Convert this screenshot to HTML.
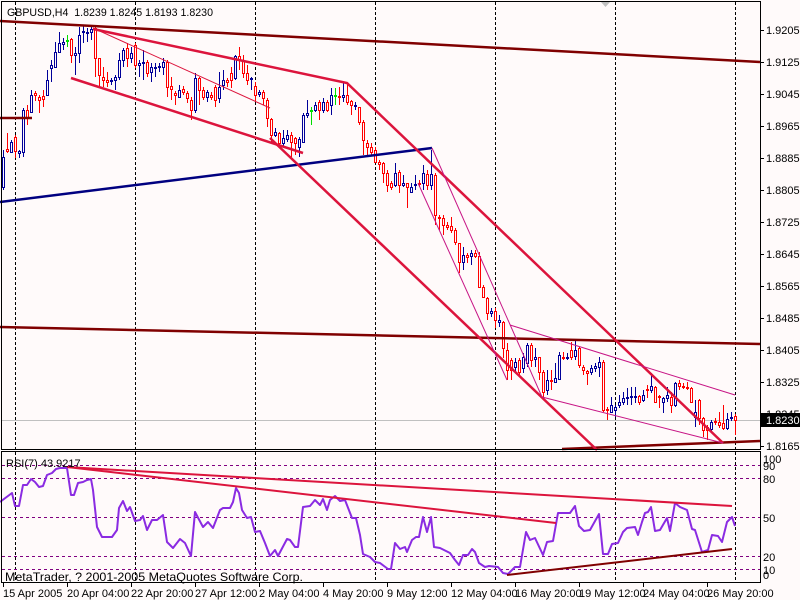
<!DOCTYPE html>
<html><head><meta charset="utf-8"><style>
html,body{margin:0;padding:0;background:#FFFAFA;}
svg{display:block;}
text{font-family:"Liberation Sans",Arial,sans-serif;font-size:11px;fill:#000;}
</style></head><body>
<svg width="800" height="600" viewBox="0 0 800 600" xmlns="http://www.w3.org/2000/svg">
<rect x="0" y="0" width="800" height="600" fill="#FFFAFA"/>
<!-- vertical grid -->
<g stroke="#000" stroke-width="1" stroke-dasharray="3,2" shape-rendering="crispEdges">
<path d="M15.5 2V449M135.5 2V449M255.5 2V449M375.5 2V449M495.5 2V449M615.5 2V449M735.5 2V449"/>
<path d="M15.5 452V582M135.5 452V582M255.5 452V582M375.5 452V582M495.5 452V582M615.5 452V582M735.5 452V582"/>
</g>
<!-- current price line -->
<path d="M2 420.5H760" stroke="#C0C0C0" stroke-width="1" shape-rendering="crispEdges"/>
<polygon points="601,2 610,2 605.5,7" fill="#C0C0C0"/>
<!-- candles -->
<g shape-rendering="crispEdges" stroke-width="1">
<path stroke="#FF0000" fill="none" d="M7.5 133V153M15.5 135V158M27.5 105V125M35.5 91V101M39.5 95V113M43.5 90V107M71.5 38V63M95.5 27V77M99.5 58V87M103.5 67V87M107.5 72V87M127.5 43V67M135.5 43V68M147.5 60V77M167.5 60V97M171.5 77V100M175.5 91V105M183.5 86V95M187.5 91V103M191.5 97V120M199.5 77V105M203.5 87V100M211.5 92V100M215.5 85V107M227.5 78V87M231.5 67V88M239.5 47V70M243.5 55V78M247.5 65V85M255.5 82V102M263.5 90V105M267.5 98V127M271.5 118V143M279.5 132V147M291.5 132V157M295.5 137V155M319.5 100V120M327.5 100V112M339.5 87V105M347.5 83V105M351.5 100V115M359.5 107V125M363.5 120V155M367.5 140V155M371.5 143V155M375.5 147V163M379.5 160V170M383.5 162V183M387.5 170V192M391.5 181V190M399.5 170V193M407.5 183V208M419.5 180V187M427.5 170V190M435.5 173V225M439.5 215V230M443.5 215V235M447.5 222V230M451.5 217V233M455.5 228V245M459.5 243V273M467.5 253V263M475.5 250V258M479.5 252V287M483.5 285V298M487.5 297V320M495.5 308V328M503.5 321V358M507.5 343V380M511.5 358V380M519.5 358V377M531.5 343V367M539.5 357V380M543.5 370V397M551.5 370V390M563.5 352V360M571.5 342V360M579.5 347V368M583.5 365V375M587.5 370V385M603.5 360V412M607.5 407V420M639.5 395V405M647.5 385V398M655.5 386V403M659.5 395V408M671.5 392V413M679.5 380V390M683.5 383V389M687.5 382V390M691.5 387V403M699.5 399V425M703.5 417V437M707.5 425V440M715.5 418V425M719.5 412V428M723.5 405V430M735.5 414V435"/>
<path stroke="#FF0000" fill="#FFFAFA" d="M6.5 149.5h2v2h-2zM14.5 137.5h2v14h-2zM26.5 110.5h2v7h-2zM34.5 93.5h2v2h-2zM38.5 97.5h2v3h-2zM42.5 96.5h2v3h-2zM70.5 39.5h2v16h-2zM94.5 28.5h2v30h-2zM98.5 58.5h2v17h-2zM102.5 77.5h2v3h-2zM106.5 80.5h2v2h-2zM126.5 48.5h2v10h-2zM134.5 45.5h2v20h-2zM146.5 62.5h2v11h-2zM166.5 62.5h2v25h-2zM170.5 86.5h2v3h-2zM174.5 93.5h2v2h-2zM182.5 89.5h2v3h-2zM186.5 93.5h2v5h-2zM190.5 100.5h2v10h-2zM198.5 78.5h2v12h-2zM202.5 90.5h2v7h-2zM210.5 95.5h2v2h-2zM214.5 87.5h2v13h-2zM226.5 80.5h2v2h-2zM230.5 73.5h2v7h-2zM238.5 56.5h2v4h-2zM242.5 60.5h2v13h-2zM246.5 73.5h2v7h-2zM254.5 86.5h2v9h-2zM262.5 92.5h2v6h-2zM266.5 100.5h2v18h-2zM270.5 119.5h2v16h-2zM278.5 133.5h2v10h-2zM290.5 135.5h2v7h-2zM294.5 138.5h2v5h-2zM318.5 102.5h2v8h-2zM326.5 102.5h2v8h-2zM338.5 96.5h2v1h-2zM346.5 95.5h2v7h-2zM350.5 101.5h2v4h-2zM358.5 107.5h2v15h-2zM362.5 122.5h2v18h-2zM366.5 143.5h2v4h-2zM370.5 147.5h2v5h-2zM374.5 150.5h2v12h-2zM378.5 162.5h2v2h-2zM382.5 163.5h2v10h-2zM386.5 173.5h2v12h-2zM390.5 183.5h2v4h-2zM398.5 172.5h2v13h-2zM406.5 183.5h2v4h-2zM418.5 183.5h2v1h-2zM426.5 174.5h2v11h-2zM434.5 175.5h2v40h-2zM438.5 217.5h2v1h-2zM442.5 218.5h2v7h-2zM446.5 225.5h2v2h-2zM450.5 226.5h2v4h-2zM454.5 230.5h2v12h-2zM458.5 243.5h2v19h-2zM466.5 255.5h2v2h-2zM474.5 253.5h2v3h-2zM478.5 256.5h2v31h-2zM482.5 287.5h2v10h-2zM486.5 298.5h2v15h-2zM494.5 311.5h2v9h-2zM502.5 322.5h2v26h-2zM506.5 350.5h2v20h-2zM510.5 360.5h2v10h-2zM518.5 360.5h2v12h-2zM530.5 345.5h2v15h-2zM538.5 357.5h2v15h-2zM542.5 372.5h2v20h-2zM550.5 380.5h2v1h-2zM562.5 357.5h2v1h-2zM570.5 350.5h2v7h-2zM578.5 348.5h2v17h-2zM582.5 367.5h2v3h-2zM586.5 371.5h2v2h-2zM602.5 362.5h2v48h-2zM606.5 409.5h2v1h-2zM638.5 396.5h2v6h-2zM646.5 389.5h2v1h-2zM654.5 387.5h2v15h-2zM658.5 396.5h2v1h-2zM670.5 397.5h2v8h-2zM678.5 383.5h2v3h-2zM682.5 386.5h2v1h-2zM686.5 387.5h2v1h-2zM690.5 388.5h2v14h-2zM698.5 400.5h2v18h-2zM702.5 418.5h2v12h-2zM706.5 427.5h2v3h-2zM714.5 421.5h2v1h-2zM718.5 422.5h2v3h-2zM722.5 423.5h2v5h-2zM734.5 416.5h2v4h-2z"/>
<path stroke="#000099" fill="none" d="M3.5 150V190M11.5 140V153M19.5 150V158M23.5 108V157M31.5 90V113M47.5 70V96M51.5 60V82M55.5 42V68M59.5 32V53M63.5 38V50M75.5 47V75M79.5 27V63M83.5 25V43M87.5 28V42M91.5 26V40M111.5 78V85M115.5 75V90M119.5 53V80M123.5 48V67M131.5 47V63M139.5 60V77M143.5 50V80M151.5 63V82M155.5 63V77M159.5 63V72M163.5 58V75M179.5 85V98M195.5 73V113M207.5 90V102M219.5 72V103M223.5 70V90M235.5 55V80M251.5 77V90M259.5 90V97M275.5 128V137M283.5 130V147M287.5 130V142M299.5 137V157M303.5 113V143M307.5 100V118M315.5 102V112M323.5 98V113M331.5 88V115M343.5 83V102M355.5 102V110M395.5 163V187M403.5 175V187M411.5 183V193M415.5 175V190M423.5 165V190M431.5 150V190M463.5 247V270M471.5 250V265M491.5 308V317M499.5 315V327M515.5 358V373M523.5 353V373M527.5 343V367M535.5 348V367M547.5 370V395M555.5 363V383M559.5 352V380M567.5 353V360M575.5 340V360M591.5 365V375M595.5 363V372M599.5 357V377M611.5 397V413M615.5 405V417M619.5 395V408M623.5 392V405M627.5 388V405M631.5 387V405M635.5 387V403M643.5 390V402M651.5 373V393M663.5 397V413M667.5 387V402M675.5 382V407M695.5 400V427M711.5 420V433M727.5 413V430M731.5 412V421"/>
<path stroke="#000099" fill="#FFFAFA" d="M2.5 157.5h2v30h-2zM10.5 142.5h2v10h-2zM18.5 151.5h2v2h-2zM22.5 110.5h2v42h-2zM30.5 95.5h2v17h-2zM46.5 80.5h2v15h-2zM50.5 65.5h2v3h-2zM54.5 52.5h2v15h-2zM58.5 43.5h2v9h-2zM62.5 42.5h2v2h-2zM74.5 53.5h2v2h-2zM78.5 35.5h2v18h-2zM82.5 31.5h2v1h-2zM86.5 32.5h2v1h-2zM90.5 29.5h2v3h-2zM110.5 80.5h2v1h-2zM114.5 77.5h2v3h-2zM118.5 60.5h2v17h-2zM122.5 50.5h2v10h-2zM130.5 53.5h2v5h-2zM138.5 63.5h2v2h-2zM142.5 62.5h2v1h-2zM150.5 67.5h2v5h-2zM154.5 67.5h2v1h-2zM158.5 66.5h2v1h-2zM162.5 62.5h2v5h-2zM178.5 90.5h2v7h-2zM194.5 78.5h2v32h-2zM206.5 92.5h2v5h-2zM218.5 87.5h2v11h-2zM222.5 80.5h2v5h-2zM234.5 56.5h2v22h-2zM250.5 78.5h2v1h-2zM258.5 92.5h2v2h-2zM274.5 132.5h2v3h-2zM282.5 138.5h2v5h-2zM286.5 135.5h2v4h-2zM298.5 139.5h2v8h-2zM302.5 115.5h2v27h-2zM306.5 113.5h2v2h-2zM314.5 105.5h2v5h-2zM322.5 102.5h2v8h-2zM330.5 95.5h2v10h-2zM342.5 95.5h2v2h-2zM354.5 105.5h2v1h-2zM394.5 173.5h2v12h-2zM402.5 183.5h2v2h-2zM410.5 187.5h2v5h-2zM414.5 184.5h2v1h-2zM422.5 173.5h2v10h-2zM430.5 174.5h2v11h-2zM462.5 255.5h2v7h-2zM470.5 253.5h2v3h-2zM490.5 311.5h2v2h-2zM498.5 320.5h2v2h-2zM514.5 362.5h2v5h-2zM522.5 357.5h2v11h-2zM526.5 345.5h2v18h-2zM534.5 357.5h2v2h-2zM546.5 380.5h2v10h-2zM554.5 378.5h2v4h-2zM558.5 355.5h2v24h-2zM566.5 357.5h2v1h-2zM574.5 350.5h2v6h-2zM590.5 368.5h2v4h-2zM594.5 366.5h2v2h-2zM598.5 362.5h2v5h-2zM610.5 405.5h2v7h-2zM614.5 407.5h2v3h-2zM618.5 402.5h2v3h-2zM622.5 398.5h2v4h-2zM626.5 397.5h2v1h-2zM630.5 396.5h2v1h-2zM634.5 396.5h2v1h-2zM642.5 395.5h2v5h-2zM650.5 386.5h2v4h-2zM662.5 398.5h2v4h-2zM666.5 395.5h2v3h-2zM674.5 383.5h2v22h-2zM694.5 412.5h2v5h-2zM710.5 422.5h2v7h-2zM726.5 419.5h2v9h-2zM730.5 417.5h2v1h-2z"/>
<path stroke="#00DD00" fill="none" d="M67.5 35V47M311.5 107V125M335.5 88V105"/>
<path stroke="#00DD00" fill="#00DD00" d="M66.5 40.5h2v1h-2zM310.5 110.5h2v1h-2zM334.5 95.5h2v1h-2z"/>
</g>
<!-- trend lines main -->
<g fill="none" stroke-linecap="butt">
<path d="M0 21L760 62" stroke="#800000" stroke-width="2.5"/>
<path d="M0 118H32" stroke="#800000" stroke-width="2.5"/>
<path d="M0 327L760 344" stroke="#800000" stroke-width="2.5"/>
<path d="M562 449L760 441" stroke="#800000" stroke-width="2.5"/>
<path d="M0 202L432 148" stroke="#000080" stroke-width="2.5"/>
<path d="M93 29L347 83L723 443" stroke="#DC143C" stroke-width="2.5"/>
<path d="M71 78L303 153" stroke="#DC143C" stroke-width="2.5"/>
<path d="M270 138L597 450" stroke="#DC143C" stroke-width="2.5"/>
<path d="M93 28L270 108" stroke="#DC143C" stroke-width="1"/>
<path d="M418 183L507 380" stroke="#C71585" stroke-width="1"/>
<path d="M432 148L542 397" stroke="#C71585" stroke-width="1"/>
<path d="M510 325L735 395" stroke="#C71585" stroke-width="1"/>
<path d="M542 397L723 443" stroke="#C71585" stroke-width="1"/>
</g>
<!-- RSI levels -->
<g stroke="#800080" stroke-width="1" stroke-dasharray="3,3" shape-rendering="crispEdges">
<path d="M2 465.5H760M2 478.5H760M2 517.5H760M2 556.5H760M2 569.5H760"/>
</g>
<!-- RSI line -->
<polyline fill="none" stroke="#8A2BE2" stroke-width="2" stroke-linejoin="round" points="0,502 12,493 15,506 19,506 23,485 27,485 31,479 35,482 39,487 43,486 47,475 52,473 56,469 60,468 67,468 71,495 74,495 78,483 83,482 87,480 91,479 93,490 97,527 102,537 112,537 117,530 119,508 123,501 127,511 130,507 135,521 140,520 143,516 147,530 152,520 157,520 163,515 167,542 173,548 180,539 185,543 191,556 195,512 203,527 208,522 213,528 220,510 223,508 230,508 233,502 236,488 239,493 242,510 247,518 251,517 255,532 260,531 265,543 270,556 275,550 278,556 287,539 290,540 295,547 298,547 303,507 310,506 315,500 320,505 323,499 327,510 330,500 335,496 340,501 345,500 352,518 356,518 360,535 363,554 370,557 375,562 380,563 388,569 391,569 395,543 400,549 405,547 407,552 412,540 416,537 419,537 423,517 427,532 431,517 434,547 440,548 450,553 455,560 459,565 463,555 468,555 472,549 475,552 479,563 485,567 489,566 498,567 503,573 508,574 515,567 520,567 526,532 530,540 535,538 543,555 547,542 553,541 558,513 570,513 575,506 579,526 584,531 590,530 599,514 603,554 608,554 612,544 618,543 623,532 627,528 635,527 638,535 642,522 645,513 648,512 651,507 655,531 660,530 667,518 670,531 675,503 680,507 687,510 692,529 695,530 702,552 708,550 712,535 718,536 722,542 727,522 732,517 735,526"/>
<g fill="none">
<path d="M67 467L732 506" stroke="#DC143C" stroke-width="2"/>
<path d="M67 467L556 523" stroke="#DC143C" stroke-width="2"/>
<path d="M507 575L732 549" stroke="#800000" stroke-width="2"/>
</g>
<!-- borders -->
<g stroke="#000" stroke-width="1" fill="none" shape-rendering="crispEdges">
<path d="M1.5 1.5H760.5V449.5H1.5Z"/>
<path d="M1.5 451.5H760.5V582.5H1.5Z"/>
<path d="M760 30.5h4M760 62.5h4M760 94.5h4M760 126.5h4M760 158.5h4M760 190.5h4M760 222.5h4M760 254.5h4M760 286.5h4M760 318.5h4M760 350.5h4M760 382.5h4M760 414.5h4M760 446.5h4"/>
<path d="M3.5 583v4M67.5 583v4M131.5 583v4M195.5 583v4M259.5 583v4M323.5 583v4M387.5 583v4M451.5 583v4M515.5 583v4M579.5 583v4M643.5 583v4M707.5 583v4"/>
</g>
<!-- price labels -->
<g>
<text x="766" y="34">1.9205</text>
<text x="766" y="66">1.9125</text>
<text x="766" y="98">1.9045</text>
<text x="766" y="130">1.8965</text>
<text x="766" y="162">1.8885</text>
<text x="766" y="194">1.8805</text>
<text x="766" y="226">1.8725</text>
<text x="766" y="258">1.8645</text>
<text x="766" y="290">1.8565</text>
<text x="766" y="322">1.8485</text>
<text x="766" y="354">1.8405</text>
<text x="766" y="386">1.8325</text>
<text x="766" y="418">1.8245</text>
<text x="766" y="450">1.8165</text>
</g>
<rect x="761" y="413" width="39" height="14" fill="#000"/>
<text x="766" y="424" style="fill:#fff">1.8230</text>
<!-- RSI labels -->
<g>
<text x="763" y="463">100</text>
<text x="763" y="470">90</text>
<text x="763" y="483">80</text>
<text x="763" y="522">50</text>
<text x="763" y="561">20</text>
<text x="763" y="574">10</text>
<text x="763" y="579">0</text>
</g>
<!-- time labels -->
<g>
<text x="3" y="597">15 Apr 2005</text>
<text x="67" y="597">20 Apr 04:00</text>
<text x="131" y="597">22 Apr 20:00</text>
<text x="195" y="597">27 Apr 12:00</text>
<text x="259" y="597">2 May 04:00</text>
<text x="323" y="597">4 May 20:00</text>
<text x="387" y="597">9 May 12:00</text>
<text x="451" y="597">12 May 04:00</text>
<text x="515" y="597">16 May 20:00</text>
<text x="579" y="597">19 May 12:00</text>
<text x="643" y="597">24 May 04:00</text>
<text x="707" y="597">26 May 20:00</text>
</g>
<text x="7" y="16" style="white-space:pre" textLength="206" lengthAdjust="spacingAndGlyphs">GBPUSD,H4  1.8239 1.8245 1.8193 1.8230</text>
<text x="6" y="467">RSI(7) 43.9217</text>
<text x="5" y="581" style="font-size:12px" textLength="298" lengthAdjust="spacingAndGlyphs">MetaTrader, ? 2001-2005 MetaQuotes Software Corp.</text>
</svg>
</body></html>
